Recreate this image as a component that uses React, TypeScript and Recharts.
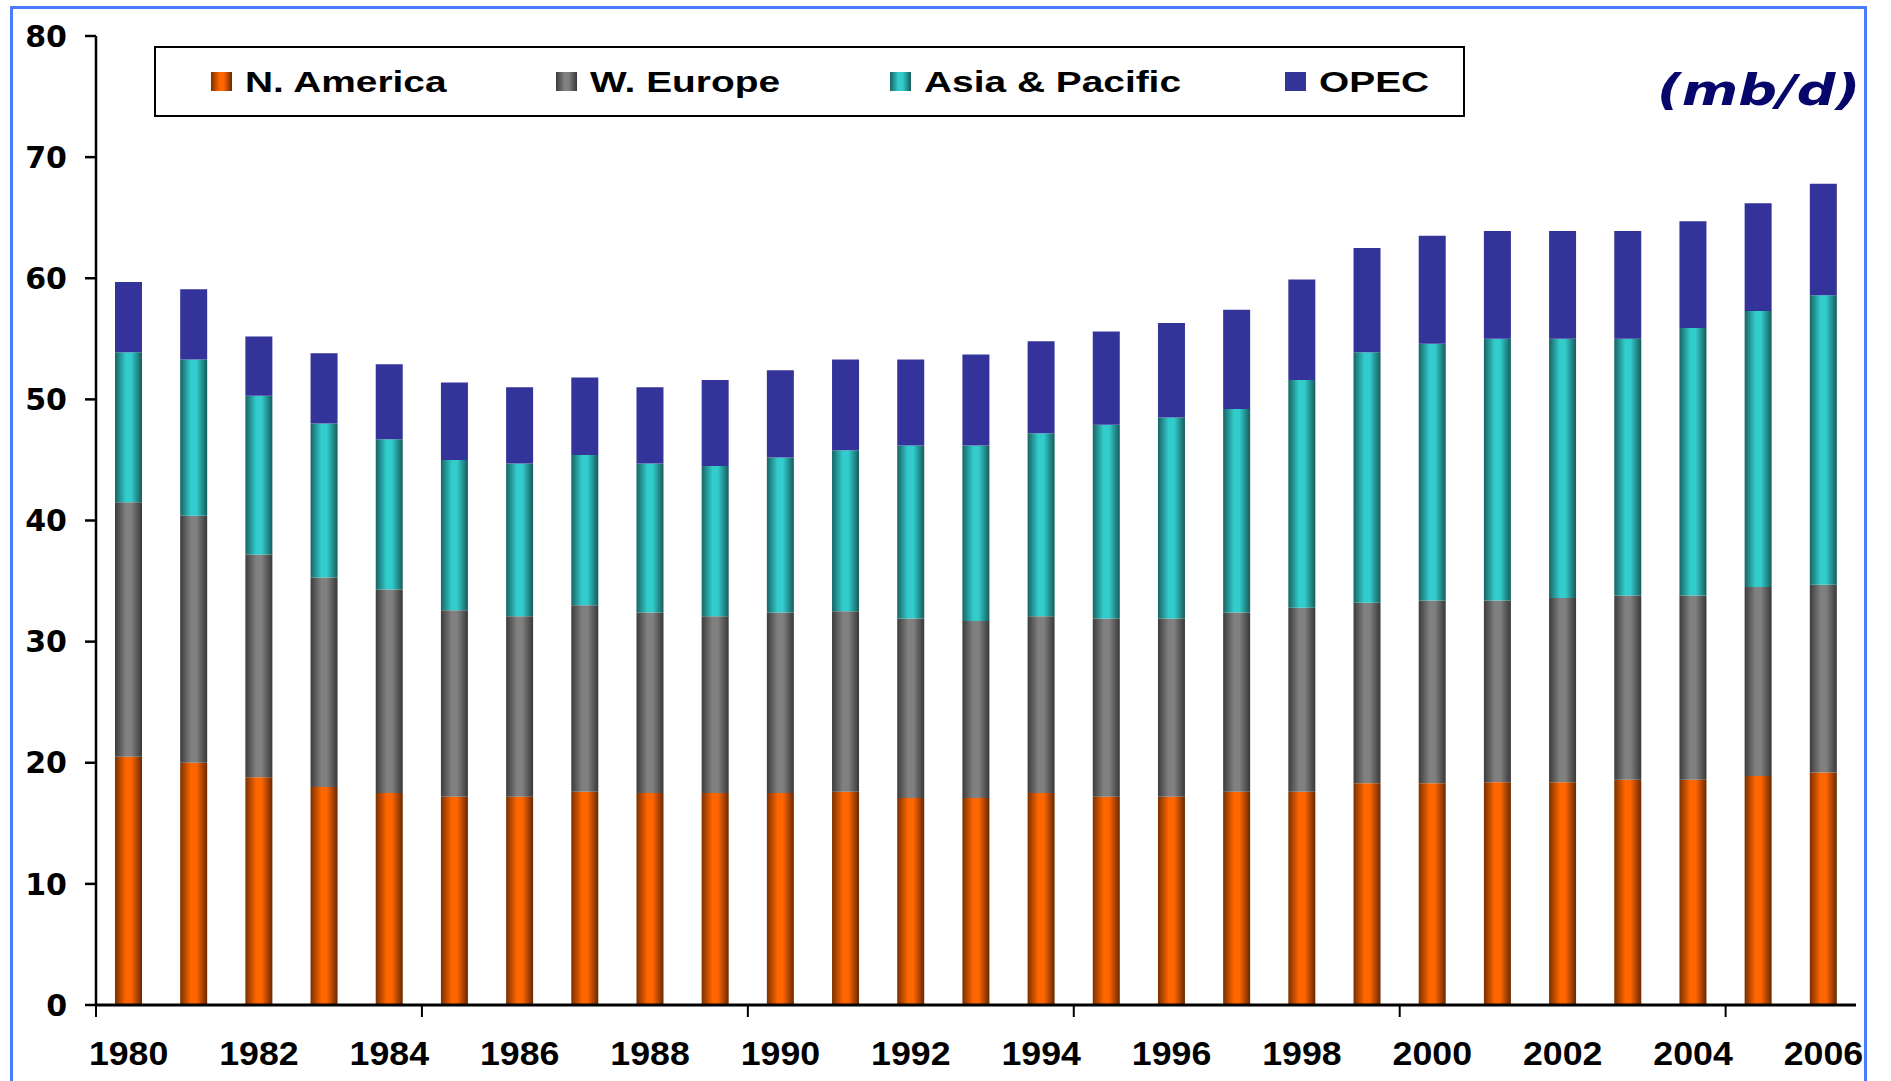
import React from 'react';
import { BarChart, Bar, XAxis, YAxis, Legend } from 'recharts';

// ---------------------------------------------------------------------------
// Data (mb/d)
// ---------------------------------------------------------------------------

const YEARS = [
  '1980', '1981', '1982', '1983', '1984', '1985', '1986', '1987', '1988',
  '1989', '1990', '1991', '1992', '1993', '1994', '1995', '1996', '1997',
  '1998', '1999', '2000', '2001', '2002', '2003', '2004', '2005', '2006',
];

const N_AMERICA = [
  20.5, 20.0, 18.8, 18.0, 17.5, 17.2, 17.2, 17.6, 17.5, 17.5, 17.5, 17.6, 17.1,
  17.1, 17.5, 17.2, 17.2, 17.6, 17.6, 18.3, 18.3, 18.4, 18.4, 18.6, 18.6, 18.9, 19.2,
];

const W_EUROPE = [
  21.0, 20.4, 18.4, 17.3, 16.8, 15.4, 14.9, 15.4, 14.9, 14.6, 14.9, 14.9, 14.8,
  14.6, 14.6, 14.7, 14.7, 14.8, 15.2, 14.9, 15.1, 15.0, 15.2, 15.2, 15.2, 15.6, 15.5,
];

const ASIA_PACIFIC = [
  12.4, 12.9, 13.1, 12.7, 12.4, 12.4, 12.6, 12.4, 12.3, 12.4, 12.8, 13.3, 14.3,
  14.5, 15.1, 16.0, 16.6, 16.8, 18.8, 20.7, 21.2, 21.6, 21.4, 21.2, 22.1, 22.8, 23.9,
];

const OPEC = [
  5.8, 5.8, 4.9, 5.8, 6.2, 6.4, 6.3, 6.4, 6.3, 7.1, 7.2, 7.5, 7.1,
  7.5, 7.6, 7.7, 7.8, 8.2, 8.3, 8.6, 8.9, 8.9, 8.9, 8.9, 8.8, 8.9, 9.2,
];

const Y_TICKS = [0, 10, 20, 30, 40, 50, 60, 70, 80];

const data = YEARS.map((year, i) => ({
  year,
  na: N_AMERICA[i],
  we: W_EUROPE[i],
  ap: ASIA_PACIFIC[i],
  opec: OPEC[i],
}));

// ---------------------------------------------------------------------------
// Styling
// ---------------------------------------------------------------------------

const FONT = '"Liberation Sans", Arial, sans-serif';
const WIDE_FONT = '"DejaVu Sans", Verdana, sans-serif';

// shaded (dark - light - dark) fills, like the old Excel "shade" bars
const SERIES = [
  { key: 'na', name: 'N. America', stops: ['#7a3000', '#ff6600', '#ff6600', '#6a2800'], legendLeft: 55 },
  { key: 'we', name: 'W. Europe', stops: ['#3c3c3c', '#808080', '#808080', '#383838'], legendLeft: 400 },
  { key: 'ap', name: 'Asia & Pacific', stops: ['#186464', '#33cccc', '#33cccc', '#165c5c'], legendLeft: 734 },
  { key: 'opec', name: 'OPEC', stops: ['#333399', '#333399', '#333399', '#333399'], legendLeft: 1129 },
];

const cssGradient = (s: string[]) =>
  `linear-gradient(to right, ${s[0]} 0%, ${s[1]} 40%, ${s[2]} 60%, ${s[3]} 100%)`;

// ---------------------------------------------------------------------------
// Pieces
// ---------------------------------------------------------------------------

function YearTick(props: any) {
  const { x, y, payload, index } = props;
  const half = payload && typeof payload.offset === 'number' && payload.offset > 0 ? payload.offset : 32.6;
  return (
    <g>
      {index % 5 === 0 && (
        <line x1={x - half} x2={x - half} y1={y} y2={y + 12} stroke="#000" strokeWidth={2} />
      )}
      {index % 2 === 0 && (
        <text
          transform={`translate(${x},${y + 60}) scale(1.05,1)`}
          textAnchor="middle"
          fontFamily={FONT}
          fontWeight={700}
          fontSize={34}
          fill="#000"
        >
          {payload.value}
        </text>
      )}
    </g>
  );
}

function LegendBox() {
  return (
    <div
      style={{
        position: 'relative',
        width: 1311,
        height: 71,
        border: '2px solid #000',
        boxSizing: 'border-box',
        background: '#fff',
        fontFamily: FONT,
      }}
    >
      {SERIES.map((s) => (
        <React.Fragment key={s.key}>
          <div
            style={{
              position: 'absolute',
              left: s.legendLeft,
              top: 24,
              width: 21,
              height: 19,
              background: cssGradient(s.stops),
            }}
          />
          <div
            style={{
              position: 'absolute',
              left: s.legendLeft + 34,
              top: 20,
              fontSize: 29,
              lineHeight: '29px',
              fontWeight: 700,
              color: '#000',
              whiteSpace: 'nowrap',
              transform: 'scaleX(1.34)',
              transformOrigin: 'left center',
            }}
          >
            {s.name}
          </div>
        </React.Fragment>
      ))}
    </div>
  );
}

// ---------------------------------------------------------------------------
// Chart
// ---------------------------------------------------------------------------

export default function App() {
  return (
    <div
      style={{
        position: 'absolute',
        left: 0,
        top: 0,
        width: 1891,
        height: 1081,
        background: '#fff',
        overflow: 'hidden',
      }}
    >
      <BarChart
        width={1891}
        height={1081}
        data={data}
        margin={{ top: 36, right: 35, bottom: 0, left: 0 }}
      >
        <defs>
          {SERIES.map((s) => (
            <linearGradient key={s.key} id={`grad-${s.key}`} x1="0" y1="0" x2="1" y2="0">
              <stop offset="0%" stopColor={s.stops[0]} />
              <stop offset="40%" stopColor={s.stops[1]} />
              <stop offset="60%" stopColor={s.stops[2]} />
              <stop offset="100%" stopColor={s.stops[3]} />
            </linearGradient>
          ))}
        </defs>

        <XAxis
          dataKey="year"
          interval={0}
          height={76}
          tickSize={0}
          tickMargin={0}
          tickLine={false}
          axisLine={{ stroke: '#000', strokeWidth: 3 }}
          tick={<YearTick />}
        />
        <YAxis
          domain={[0, 80]}
          ticks={Y_TICKS}
          width={96}
          tickSize={11}
          tickMargin={18}
          axisLine={{ stroke: '#000', strokeWidth: 2.5 }}
          tickLine={{ stroke: '#000', strokeWidth: 2.5 }}
          tick={{ fill: '#000', fontSize: 30, fontWeight: 700, fontFamily: WIDE_FONT }}
        />

        <Legend
          layout="horizontal"
          verticalAlign="middle"
          align="center"
          wrapperStyle={{ left: 154, top: 46, width: 1311, height: 71 }}
          content={() => <LegendBox />}
        />

        {SERIES.map((s) => (
          <Bar
            key={s.key}
            dataKey={s.key}
            name={s.name}
            stackId="oil"
            barSize={27}
            fill={`url(#grad-${s.key})`}
            isAnimationActive={false}
          />
        ))}
      </BarChart>

      {/* unit label */}
      <svg
        width={1891}
        height={1081}
        style={{ position: 'absolute', left: 0, top: 0, pointerEvents: 'none' }}
      >
        <text
          transform="translate(1657,105) scale(1.26,1)"
          fontFamily={WIDE_FONT}
          fontStyle="italic"
          fontWeight={700}
          fontSize={43}
          fill="#06066b"
        >
          (mb/d)
        </text>
      </svg>

      {/* blue frame */}
      <div
        style={{
          position: 'absolute',
          left: 10,
          top: 6,
          width: 1851,
          height: 1200,
          border: '3px solid #4a7cff',
          pointerEvents: 'none',
        }}
      />
    </div>
  );
}
